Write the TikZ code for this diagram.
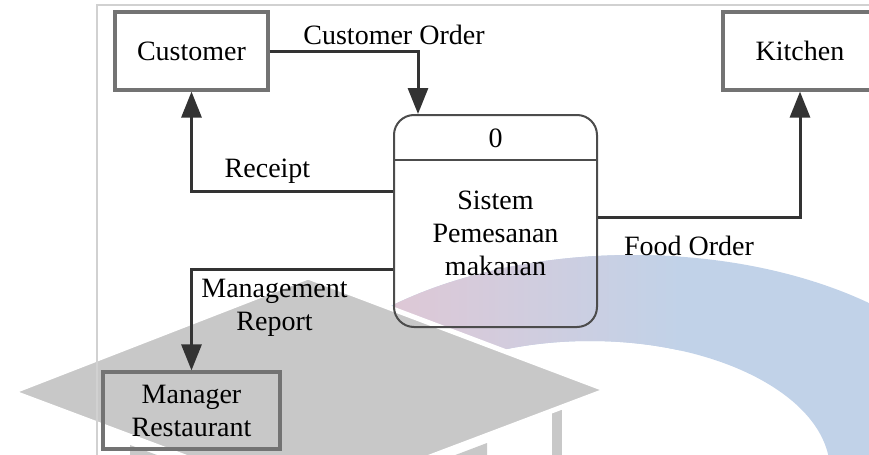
\documentclass[tikz,border=0pt]{standalone}
\usepackage{fontspec}
\setmainfont{Liberation Serif}
\usepackage{xcolor}
\usepackage{tikz}
\usetikzlibrary{positioning}
\usetikzlibrary{arrows.meta}
\definecolor{grisfiligrane}{RGB}{200,200,200}
\definecolor{rosefiligrane}{RGB}{222,200,214}
\definecolor{bleufiligrane}{RGB}{193,210,232}

\begin{document}
\begin{tikzpicture}[x=0.5pt,y=-0.5pt,font=\fontsize{14}{16.5}\selectfont]
% définition des paramètres
\tikzstyle entitedfd=[draw=black!55,line width=1.6pt,rectangle,minimum width=76.5pt,minimum height=39pt,align=center,inner sep=0pt]
\tikzstyle processusdfd=[draw=black!70,line width=1pt,rectangle,rounded corners=10pt,minimum width=101.5pt,minimum height=106pt]
\tikzstyle separationdfd=[draw=black!70,line width=1pt]
\tikzstyle fluxdfd=[draw=black!80,line width=1.5pt,-{Triangle[length=13pt,width=10pt]}]
\tikzstyle etiquettedfd=[inner sep=0pt,align=center]
\tikzstyle cadredfd=[color=black!18,line width=0.6pt]
\newcommand{\entetehaut}{23pt} % hauteur de l'en-tête du processus
\newcommand{\fluxhaut}{15pt}   % départ du flux Receipt
\newcommand{\fluxbas}{24pt}    % départ du flux Management Report
% la zone de l'image
\useasboundingbox (0,0) rectangle (869,455);
\clip (0,0) rectangle (869,455);
% le filigrane : l'anneau
\begin{scope}[even odd rule]
\clip (633,455) ellipse (363 and 200) (590,471) ellipse (240 and 130);
\fill[bleufiligrane] (380,200) rectangle (869,455);
\shade[left color=rosefiligrane,right color=bleufiligrane] (395,200) rectangle (680,455);
\end{scope}
% le filigrane : la toque
\fill[grisfiligrane] (130,445) -- (308,511) -- (487,443) -- (487,530) -- (130,530) -- cycle;
\fill[grisfiligrane] (552,395) rectangle (562,470);
\filldraw[fill=grisfiligrane,draw=white,line width=2.5pt] (12,392) -- (308,277) -- (607,390) -- (308,503) -- cycle;
% le cadre
\draw[cadredfd] (97,455) -- (97,5) -- (869,5);
% les entités
\node[entitedfd] (cust) at (191.5,51) {Customer};
\node[entitedfd,minimum width=77pt] (kit) at (800,51) {Kitchen};
\node[entitedfd,minimum width=88.5pt,minimum height=38.5pt] (mgr) at (191.5,410.5) {Manager\\Restaurant};
% le processus
\node[processusdfd] (proc) at (495.5,221) {};
\draw[separationdfd] ([yshift=-\entetehaut]proc.north west) -- ([yshift=-\entetehaut]proc.north east);
\node[etiquettedfd,anchor=base] (procnum) at (495.5,148) {0};
\node[etiquettedfd] (proctxt) at (495.5,233) {Sistem\\Pemesanan\\makanan};
% les flux
\draw[fluxdfd] (cust.east) -| ([xshift=12.5pt]proc.north west);
\draw[fluxdfd] ([yshift=\fluxhaut]proc.west) -| (cust.south);
\draw[fluxdfd] ([yshift=2pt]proc.east) -| (kit.south);
\draw[fluxdfd] ([yshift=-\fluxbas]proc.west) -| (mgr.north);
% les étiquettes
\node[etiquettedfd,anchor=base] (lcommande) at (394,45) {Customer Order};
\node[etiquettedfd,anchor=base] (lrecu) at (267.5,177) {Receipt};
\node[etiquettedfd,anchor=base] (lcuisine) at (689,255) {Food Order};
\node[etiquettedfd] (lrapport) at (274.5,308) {Management\\Report};
\end{tikzpicture}
\end{document}
